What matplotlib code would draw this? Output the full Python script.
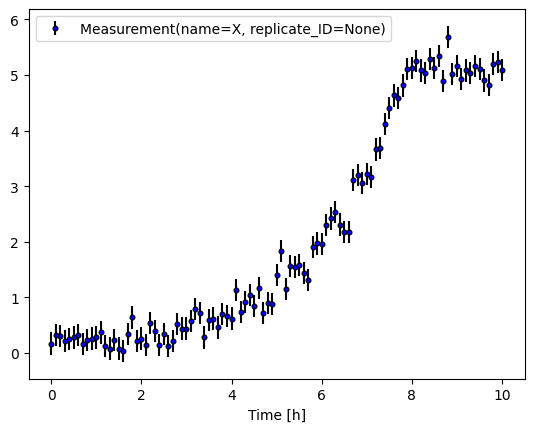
import matplotlib

matplotlib.use("Agg")
import matplotlib.pyplot as plt  # noqa: E402
import numpy as np  # noqa: E402

time = np.round(np.arange(0, 10.01, 0.1), 1)
values = [
    0.17, 0.32, 0.30, 0.22, 0.25, 0.28, 0.32, 0.16, 0.23, 0.26,
    0.28, 0.37, 0.12, 0.08, 0.23, 0.08, 0.04, 0.34, 0.64, 0.21,
    0.26, 0.14, 0.54, 0.39, 0.14, 0.34, 0.12, 0.22, 0.52, 0.44,
    0.44, 0.58, 0.79, 0.72, 0.28, 0.59, 0.62, 0.46, 0.70, 0.66,
    0.62, 1.13, 0.74, 0.92, 1.04, 0.85, 1.17, 0.72, 0.90, 0.88,
    1.40, 1.83, 1.15, 1.56, 1.54, 1.58, 1.44, 1.31, 1.90, 1.97,
    1.96, 2.30, 2.42, 2.54, 2.31, 2.17, 2.17, 3.11, 3.20, 3.06,
    3.22, 3.16, 3.66, 3.68, 4.12, 4.40, 4.63, 4.58, 4.81, 5.11,
    5.12, 5.25, 5.08, 5.04, 5.28, 5.13, 5.34, 4.89, 5.68, 5.02,
    5.16, 4.92, 5.08, 5.04, 5.16, 5.11, 4.90, 4.82, 5.19, 5.23,
    5.09,
]
errors = [0.2] * len(values)
label = "Measurement(name=X, replicate_ID=None)"

fig, ax = plt.subplots(figsize=(6.4, 4.8))
ax.errorbar(time, values, yerr=errors, fmt="o", ms=3.5, mfc="blue",
            mec="black", mew=0.8, ecolor="black", elinewidth=1.5,
            label=label)
ax.set_xlabel("Time [h]")
ax.legend(loc="upper left")
fig.savefig("out.png", dpi=100, bbox_inches="tight")
plt.close(fig)
